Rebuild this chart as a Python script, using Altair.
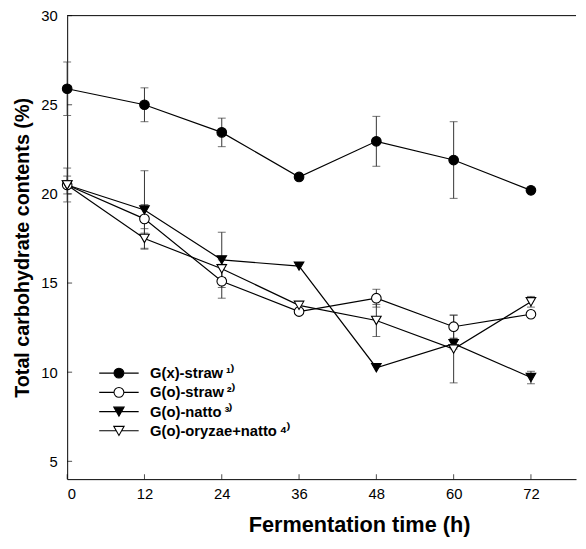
import altair as alt
import pandas as pd

# ---- data ----
times = [0, 12, 24, 36, 48, 60, 72]
series = ["G(x)-straw", "G(o)-straw", "G(o)-natto", "G(o)-oryzae+natto"]
labels = ["G(x)-straw\u2009¹⁾", "G(o)-straw\u2009²⁾", "G(o)-natto\u2009³⁾", "G(o)-oryzae+natto\u2009⁴⁾"]

gx_straw = [25.9, 25.0, 23.45, 20.95, 22.95, 21.9, 20.2]
gx_straw_err = [1.5, 0.95, 0.8, None, 1.4, 2.15, None]
go_straw = [20.5, 18.6, 15.1, 13.4, 14.15, 12.55, 13.25]
go_straw_err = [0.95, 0.8, 0.95, None, 0.5, 0.65, None]
go_natto = [20.5, 19.1, 16.3, 15.95, 10.25, 11.6, 9.7]
go_natto_err = [0.5, 2.2, 1.55, None, None, 0.3, 0.35]
go_oryzae = [20.5, 17.5, 15.8, 13.75, 12.9, 11.3, 13.95]
go_oryzae_err = [None, 0.55, 0.5, None, 0.9, 1.9, 0.3]

x_ticks = [0, 12, 24, 36, 48, 60, 72]
y_ticks = [5, 10, 15, 20, 25, 30]

fills = ["black", "white", "black", "white"]
strokes = ["black", "black", "black", "black"]
shapes = ["circle", "circle", "triangle-down", "triangle-down"]
legend_paths = [
    "M-1,0A1,1 0 1,0 1,0A1,1 0 1,0 -1,0Z M-4,0L-1,0 M1,0L4,0",
    "M-1,0A1,1 0 1,0 1,0A1,1 0 1,0 -1,0Z M-4,0L-1,0 M1,0L4,0",
    "M-1.05,-0.9L1.05,-0.9L0,0.95Z M-4,0L-0.53,0 M0.53,0L4,0",
    "M-1.05,-0.9L1.05,-0.9L0,0.95Z M-4,0L-0.53,0 M0.53,0L4,0",
]

rows = []
for lab, vals, errs in zip(labels,
                           [gx_straw, go_straw, go_natto, go_oryzae],
                           [gx_straw_err, go_straw_err, go_natto_err, go_oryzae_err]):
    for t, v, e in zip(times, vals, errs):
        rows.append({
            "time": t, "series": lab, "value": v,
            "lo": None if e is None else v - e,
            "hi": None if e is None else v + e,
        })
df = pd.DataFrame(rows)
err_df = df.dropna(subset=["lo"])

FONT = "Liberation Sans"
W, H = 516, 470

xs = alt.Scale(domain=[0, 79], nice=False, zero=False)
ys = alt.Scale(domain=[4, 30], nice=False, zero=False)

x_axis = alt.Axis(values=x_ticks, title="Fermentation   time  (h)", ticks=False,
                  labelPadding=8, titlePadding=13, titleAnchor="middle", titleX=296,
                  titleFontSize=22)
y_axis = alt.Axis(values=y_ticks, title="Total  carbohydrate  contents  (%)", ticks=False,
                  labelPadding=10, titlePadding=9)

X = alt.X("time:Q", scale=xs, axis=x_axis)
Y = alt.Y("value:Q", scale=ys, axis=y_axis)

base = alt.Chart(df)

lines = base.mark_line(color="black", strokeWidth=1.2).encode(
    x=X, y=Y, detail="series:N", order="time:Q")

err_rule = alt.Chart(err_df).mark_rule(color="#333333", strokeWidth=1).encode(
    x=alt.X("time:Q", scale=xs), y=alt.Y("lo:Q", scale=ys), y2="hi:Q")
cap_lo = alt.Chart(err_df).mark_tick(orient="horizontal", size=8, thickness=1, color="#333333").encode(
    x=alt.X("time:Q", scale=xs), y=alt.Y("lo:Q", scale=ys))
cap_hi = alt.Chart(err_df).mark_tick(orient="horizontal", size=8, thickness=1, color="#333333").encode(
    x=alt.X("time:Q", scale=xs), y=alt.Y("hi:Q", scale=ys))

points = base.mark_point(opacity=1, stroke="black", strokeWidth=1.1, size=95).encode(
    x=X, y=Y,
    shape=alt.Shape("series:N", scale=alt.Scale(domain=labels, range=shapes), legend=None),
    fill=alt.Fill("series:N", scale=alt.Scale(domain=labels, range=fills), legend=None),
)

leg = alt.Legend(title=None, orient="none", legendX=45, legendY=355, padding=0,
                 symbolSize=100, symbolOpacity=1,
                 symbolStrokeWidth=1.1, labelOffset=24, rowPadding=3.5,
                 labelFont=FONT, labelFontSize=15, labelFontWeight="bold",
                 labelColor="black", labelLimit=400)

legend_layer = base.mark_point(filled=False, opacity=1, strokeWidth=1.1, size=0).encode(
    x=X, y=Y,
    shape=alt.Shape("series:N", scale=alt.Scale(domain=labels, range=legend_paths), legend=leg),
    fill=alt.Fill("series:N", scale=alt.Scale(domain=labels, range=fills), legend=leg),
    stroke=alt.Stroke("series:N", scale=alt.Scale(domain=labels, range=strokes), legend=leg),
)

frame_top = alt.Chart(pd.DataFrame({"v": [30]})).mark_rule(color="black", strokeWidth=1).encode(
    y=alt.Y("v:Q", scale=ys))

xt = alt.Chart(pd.DataFrame({"t": x_ticks})).mark_tick(
    orient="vertical", size=5, thickness=1, color="black", yOffset=-2.5).encode(
    x=alt.X("t:Q", scale=xs), y=alt.datum(4))
yt = alt.Chart(pd.DataFrame({"t": y_ticks})).mark_tick(
    orient="horizontal", size=5, thickness=1, color="black", xOffset=2.5).encode(
    y=alt.Y("t:Q", scale=ys), x=alt.datum(0))

chart = alt.layer(
    frame_top, lines, err_rule, cap_lo, cap_hi, points, legend_layer, xt, yt
).resolve_scale(
    shape="independent", fill="independent", stroke="independent"
).properties(
    width=W, height=H,
    autosize=alt.AutoSizeParams(type="none"),
    padding={"left": 60, "top": 4, "right": 2, "bottom": 60},
    background="white",
).configure_view(
    stroke=None
).configure_axis(
    grid=False, domainColor="black", domainWidth=1,
    labelFont=FONT, labelFontSize=15, labelColor="black",
    titleFont=FONT, titleFontSize=20, titleFontWeight="bold", titleColor="black",
)

chart.save("out.html", embed_options={"renderer": "svg", "actions": False})
